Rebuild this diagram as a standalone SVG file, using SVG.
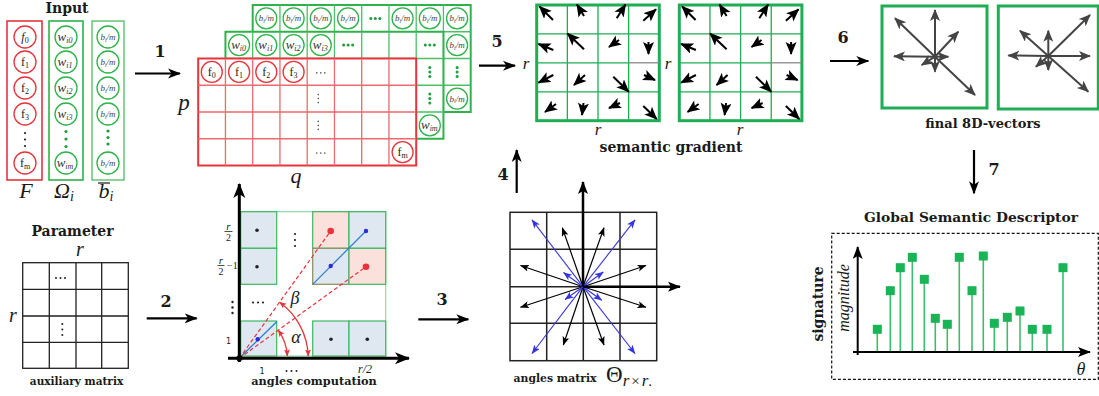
<svg xmlns="http://www.w3.org/2000/svg" width="1099" height="396" viewBox="0 0 1099 396">
<style>
.lbl{font-family:"DejaVu Serif","Liberation Serif",serif;font-weight:bold;fill:#1a1a1a}
.m{font-family:"Liberation Serif",serif;font-style:italic;fill:#1a1a1a}
.rm{font-family:"Liberation Serif",serif;fill:#1a1a1a}
.cr{fill:#fff;stroke:#e8343a;stroke-width:1.3}
.cg{fill:#fff;stroke:#2db34a;stroke-width:1.3}
.ft{font-family:"Liberation Serif",serif;font-size:12px;fill:#222;text-anchor:middle}
.wt{font-family:"Liberation Serif",serif;font-style:italic;font-size:13px;fill:#333;text-anchor:middle}
.bt{font-family:"Liberation Serif",serif;font-style:italic;font-size:9px;fill:#444;text-anchor:middle}
.gd{fill:#1e9e3c}
.kd{fill:#555}
.step{stroke:#000;stroke-width:2.2;fill:none;marker-end:url(#mStep)}
.ga{stroke:#000;stroke-width:2;fill:none;marker-end:url(#mG)}
.va{stroke:#444;stroke-width:2;fill:none;marker-end:url(#mV)}
.ta{stroke:#000;stroke-width:1.2;fill:none;marker-end:url(#mT)}
.ba{stroke:#3535e0;stroke-width:1.1;fill:none;marker-end:url(#mB)}
.rg{fill:#fff;stroke:#e8343a;stroke-width:2}
.rl{stroke:#ee6a6e;stroke-width:1.3;fill:none}
.gg{fill:#fff;stroke:#2db34a;stroke-width:2}
.gl{stroke:#4cc066;stroke-width:1.3;fill:none}
.sgo{fill:#fff;stroke:#1fae54;stroke-width:3}
.sgl{stroke:#1fae54;stroke-width:1.3;fill:none}
.cb{fill:#dfe7f0;stroke:#3cb862;stroke-width:1.2}
.cp{fill:#fbe1dc;stroke:#3cb862;stroke-width:1.2}
.stem{stroke:#3cbf6a;stroke-width:1.6}
.sq{fill:#19b455}
</style>
<defs>
<marker id="mStep" markerUnits="userSpaceOnUse" markerWidth="14" markerHeight="12" refX="12" refY="5.5" orient="auto"><path d="M0,0.5 L13,5.5 L0,10.5 L3.5,5.5 z" fill="#000"/></marker>
<marker id="mG" markerUnits="userSpaceOnUse" markerWidth="14" markerHeight="12" refX="12" refY="5.5" orient="auto"><path d="M0,0 L13,5.5 L0,11 L3,5.5 z" fill="#000"/></marker>
<marker id="mV" markerUnits="userSpaceOnUse" markerWidth="13" markerHeight="11" refX="11" refY="5" orient="auto"><path d="M0,0 L12,5 L0,10 L3,5 z" fill="#444"/></marker>
<marker id="mT" markerUnits="userSpaceOnUse" markerWidth="10" markerHeight="8" refX="8.5" refY="3.5" orient="auto"><path d="M0,0 L9,3.5 L0,7 L2.2,3.5 z" fill="#000"/></marker>
<marker id="mB" markerUnits="userSpaceOnUse" markerWidth="10" markerHeight="8" refX="8.5" refY="3.5" orient="auto"><path d="M0,0 L9,3.5 L0,7 L2.2,3.5 z" fill="#3535e0"/></marker>
<marker id="mK" markerUnits="userSpaceOnUse" markerWidth="14" markerHeight="11" refX="12" refY="5" orient="auto"><path d="M0,0 L13,5 L0,10 L3,5 z" fill="#000"/></marker>
<marker id="mAx" markerUnits="userSpaceOnUse" markerWidth="16" markerHeight="13" refX="14" refY="6" orient="auto"><path d="M0,0 L15,6 L0,12 L4,6 z" fill="#000"/></marker>
<marker id="mR" markerUnits="userSpaceOnUse" markerWidth="8" markerHeight="7" refX="6.5" refY="3" orient="auto-start-reverse"><path d="M0,0 L7,3 L0,6 L1.5,3 z" fill="#e8343a"/></marker>
</defs>
<rect width="1099" height="396" fill="#fff"/>

<!-- Input -->
<g id="input">
<text class="lbl" x="67" y="13" font-size="14" text-anchor="middle">Input</text>
<rect x="7" y="21" width="35" height="159" fill="none" stroke="#e8343a" stroke-width="1.6"/>
<rect x="49" y="21" width="34" height="159" fill="none" stroke="#2db34a" stroke-width="1.6"/>
<rect x="92" y="21" width="32" height="159" fill="none" stroke="#5cc070" stroke-width="1.4"/>
<circle class="cr" cx="25" cy="37" r="11"/><text class="ft" x="25" y="41"><tspan font-style="italic">f</tspan><tspan font-size="8" dy="2">0</tspan></text>
<circle class="cr" cx="25" cy="62" r="11"/><text class="ft" x="25" y="66">f<tspan font-size="8" dy="2">1</tspan></text>
<circle class="cr" cx="25" cy="88" r="11"/><text class="ft" x="25" y="92">f<tspan font-size="8" dy="2">2</tspan></text>
<circle class="cr" cx="25" cy="114" r="11"/><text class="ft" x="25" y="118">f<tspan font-size="8" dy="2">3</tspan></text>
<circle cx="25" cy="133" r="1.1" fill="#222"/><circle cx="25" cy="139.5" r="1.1" fill="#222"/><circle cx="25" cy="146" r="1.1" fill="#222"/>
<circle class="cr" cx="25" cy="163" r="11"/><text class="ft" x="25" y="167">f<tspan font-size="8" dy="2">m</tspan></text>

<circle class="cg" cx="66" cy="37" r="11"/><text class="wt" x="65" y="41">w<tspan font-size="8" dy="2">i0</tspan></text>
<circle class="cg" cx="66" cy="62" r="11"/><text class="wt" x="65" y="66">w<tspan font-size="8" dy="2">i1</tspan></text>
<circle class="cg" cx="66" cy="88" r="11"/><text class="wt" x="65" y="92">w<tspan font-size="8" dy="2">i2</tspan></text>
<circle class="cg" cx="66" cy="114" r="11"/><text class="wt" x="65" y="118">w<tspan font-size="8" dy="2">i3</tspan></text>
<circle cx="66" cy="131.5" r="1.6" class="gd"/><circle cx="66" cy="139" r="1.6" class="gd"/><circle cx="66" cy="146.5" r="1.6" class="gd"/>
<circle class="cg" cx="66" cy="163" r="11"/><text class="wt" x="65" y="167">w<tspan font-size="8" dy="2">im</tspan></text>

<circle class="cg" cx="108" cy="37" r="11"/><text class="bt" x="108" y="40">b<tspan font-size="6" dy="1.5">i</tspan><tspan dy="-1.5">/m</tspan></text>
<circle class="cg" cx="108" cy="62" r="11"/><text class="bt" x="108" y="65">b<tspan font-size="6" dy="1.5">i</tspan><tspan dy="-1.5">/m</tspan></text>
<circle class="cg" cx="108" cy="88" r="11"/><text class="bt" x="108" y="91">b<tspan font-size="6" dy="1.5">i</tspan><tspan dy="-1.5">/m</tspan></text>
<circle class="cg" cx="108" cy="114" r="11"/><text class="bt" x="108" y="117">b<tspan font-size="6" dy="1.5">i</tspan><tspan dy="-1.5">/m</tspan></text>
<circle cx="108" cy="131" r="1.6" class="gd"/><circle cx="108" cy="137.5" r="1.6" class="gd"/><circle cx="108" cy="144" r="1.6" class="gd"/>
<circle class="cg" cx="108" cy="163" r="11"/><text class="bt" x="108" y="166">b<tspan font-size="6" dy="1.5">i</tspan><tspan dy="-1.5">/m</tspan></text>

<text class="m" x="26" y="198" font-size="22" text-anchor="middle">F</text>
<text class="m" x="64" y="198" font-size="22" text-anchor="middle">Ω<tspan font-size="14" dy="3">i</tspan></text>
<text class="m" x="106" y="198" font-size="22" text-anchor="middle">b<tspan font-size="14" dy="3">i</tspan></text>
<line x1="98" y1="183" x2="110" y2="183" stroke="#1a1a1a" stroke-width="1.2"/>
</g>

<!-- Stacked grids -->
<g id="stacked-grids">
<rect class="gg" x="252.7" y="5" width="218" height="107"/>
<path class="gl" d="M279.95,5V112M307.2,5V112M334.45,5V112M361.7,5V112M388.95,5V112M416.2,5V112M443.45,5V112M252.7,31.75H470.7M252.7,58.5H470.7M252.7,85.25H470.7"/>
<g>
<circle class="cg" cx="266.3" cy="18.4" r="10.5"/><text class="bt" x="266.3" y="21.4">b<tspan font-size="6" dy="1.5">i</tspan><tspan dy="-1.5">/m</tspan></text>
<circle class="cg" cx="293.6" cy="18.4" r="10.5"/><text class="bt" x="293.6" y="21.4">b<tspan font-size="6" dy="1.5">i</tspan><tspan dy="-1.5">/m</tspan></text>
<circle class="cg" cx="320.8" cy="18.4" r="10.5"/><text class="bt" x="320.8" y="21.4">b<tspan font-size="6" dy="1.5">i</tspan><tspan dy="-1.5">/m</tspan></text>
<circle class="cg" cx="348.1" cy="18.4" r="10.5"/><text class="bt" x="348.1" y="21.4">b<tspan font-size="6" dy="1.5">i</tspan><tspan dy="-1.5">/m</tspan></text>
<circle class="gd" cx="370.8" cy="18.4" r="1.5"/><circle class="gd" cx="375.3" cy="18.4" r="1.5"/><circle class="gd" cx="379.8" cy="18.4" r="1.5"/>
<circle class="cg" cx="402.6" cy="18.4" r="10.5"/><text class="bt" x="402.6" y="21.4">b<tspan font-size="6" dy="1.5">i</tspan><tspan dy="-1.5">/m</tspan></text>
<circle class="cg" cx="429.8" cy="18.4" r="10.5"/><text class="bt" x="429.8" y="21.4">b<tspan font-size="6" dy="1.5">i</tspan><tspan dy="-1.5">/m</tspan></text>
<circle class="cg" cx="457.1" cy="18.4" r="10.5"/><text class="bt" x="457.1" y="21.4">b<tspan font-size="6" dy="1.5">i</tspan><tspan dy="-1.5">/m</tspan></text>
<circle class="cg" cx="457.1" cy="45.1" r="10.5"/><text class="bt" x="457.1" y="48.1">b<tspan font-size="6" dy="1.5">i</tspan><tspan dy="-1.5">/m</tspan></text>
<circle class="gd" cx="457.1" cy="67.4" r="1.5"/><circle class="gd" cx="457.1" cy="71.9" r="1.5"/><circle class="gd" cx="457.1" cy="76.4" r="1.5"/>
<circle class="cg" cx="457.1" cy="98.6" r="10.5"/><text class="bt" x="457.1" y="101.6">b<tspan font-size="6" dy="1.5">i</tspan><tspan dy="-1.5">/m</tspan></text>
</g>
<rect class="gg" x="225.45" y="31.75" width="218" height="107"/>
<path class="gl" d="M252.7,31.75V138.75M279.95,31.75V138.75M307.2,31.75V138.75M334.45,31.75V138.75M361.7,31.75V138.75M388.95,31.75V138.75M416.2,31.75V138.75M225.45,58.5H443.45M225.45,85.25H443.45M225.45,112H443.45"/>
<g>
<circle class="cg" cx="239.1" cy="45.1" r="10.5"/><text class="wt" x="238.6" y="49.1">w<tspan font-size="8" dy="2">i0</tspan></text>
<circle class="cg" cx="266.3" cy="45.1" r="10.5"/><text class="wt" x="265.8" y="49.1">w<tspan font-size="8" dy="2">i1</tspan></text>
<circle class="cg" cx="293.6" cy="45.1" r="10.5"/><text class="wt" x="293.1" y="49.1">w<tspan font-size="8" dy="2">i2</tspan></text>
<circle class="cg" cx="320.8" cy="45.1" r="10.5"/><text class="wt" x="320.3" y="49.1">w<tspan font-size="8" dy="2">i3</tspan></text>
<circle class="gd" cx="343.6" cy="45.1" r="1.5"/><circle class="gd" cx="348.1" cy="45.1" r="1.5"/><circle class="gd" cx="352.6" cy="45.1" r="1.5"/>
<circle class="gd" cx="425.3" cy="45.1" r="1.5"/><circle class="gd" cx="429.8" cy="45.1" r="1.5"/><circle class="gd" cx="434.3" cy="45.1" r="1.5"/>
<circle class="gd" cx="429.8" cy="67.4" r="1.5"/><circle class="gd" cx="429.8" cy="71.9" r="1.5"/><circle class="gd" cx="429.8" cy="76.4" r="1.5"/>
<circle class="gd" cx="429.8" cy="94.1" r="1.5"/><circle class="gd" cx="429.8" cy="98.6" r="1.5"/><circle class="gd" cx="429.8" cy="103.1" r="1.5"/>
<circle class="cg" cx="429.8" cy="125.4" r="10.5"/><text class="wt" x="429.3" y="129.4">w<tspan font-size="8" dy="2">im</tspan></text>
</g>
<rect class="rg" x="198.2" y="58.5" width="218" height="107"/>
<path class="rl" d="M225.45,58.5V165.5M252.7,58.5V165.5M279.95,58.5V165.5M307.2,58.5V165.5M334.45,58.5V165.5M361.7,58.5V165.5M388.95,58.5V165.5M198.2,85.25H416.2M198.2,112H416.2M198.2,138.75H416.2"/>
<g>
<circle class="cr" cx="211.8" cy="71.9" r="10.5"/><text class="ft" x="211.8" y="75.9">f<tspan font-size="8" dy="2">0</tspan></text>
<circle class="cr" cx="239.1" cy="71.9" r="10.5"/><text class="ft" x="239.1" y="75.9">f<tspan font-size="8" dy="2">1</tspan></text>
<circle class="cr" cx="266.3" cy="71.9" r="10.5"/><text class="ft" x="266.3" y="75.9">f<tspan font-size="8" dy="2">2</tspan></text>
<circle class="cr" cx="293.6" cy="71.9" r="10.5"/><text class="ft" x="293.6" y="75.9">f<tspan font-size="8" dy="2">3</tspan></text>
<circle class="kd" cx="316.8" cy="72.9" r="0.8"/><circle class="kd" cx="320.8" cy="72.9" r="0.8"/><circle class="kd" cx="324.8" cy="72.9" r="0.8"/>
<circle class="kd" cx="318.3" cy="94.6" r="0.8"/><circle class="kd" cx="318.3" cy="98.6" r="0.8"/><circle class="kd" cx="318.3" cy="102.6" r="0.8"/>
<circle class="kd" cx="318.3" cy="121.4" r="0.8"/><circle class="kd" cx="318.3" cy="125.4" r="0.8"/><circle class="kd" cx="318.3" cy="129.4" r="0.8"/>
<circle class="kd" cx="316.8" cy="153.1" r="0.8"/><circle class="kd" cx="320.8" cy="153.1" r="0.8"/><circle class="kd" cx="324.8" cy="153.1" r="0.8"/>
<circle class="cr" cx="402.6" cy="152.1" r="10.5"/><text class="ft" x="402.6" y="156.1">f<tspan font-size="8" dy="2">m</tspan></text>
</g>
<text class="m" x="184" y="110" font-size="23" text-anchor="middle">p</text>
<text class="m" x="296" y="183" font-size="22" text-anchor="middle">q</text>
</g>

<!-- Semantic gradient -->
<g id="semantic-gradient">
<g id="sg1">
<rect class="sgo" x="536.7" y="5" width="122.6" height="115.7"/>
<path class="sgl" d="M567.35,5V120.7M598,5V120.7M628.65,5V120.7M536.7,33.9H659.3M536.7,91.8H659.3M536.7,62.8H628.65"/>
<path d="M628.65,62.8H659.3" stroke="#888" stroke-width="1.3"/>
<path class="ga" d="M553,20L539.5,6.5"/>
<path class="ga" d="M584,16L577,4.5"/>
<path class="ga" d="M616.7,18.3L625.5,4.5"/>
<path class="ga" d="M643.3,20.7L656,9.3"/>
<path class="ga" d="M553.3,50L538.5,44"/>
<path class="ga" d="M584,49.3L567.5,33.5"/>
<path class="ga" d="M619,40L609,47"/>
<path class="ga" d="M648.5,42L648.5,54"/>
<path class="ga" d="M553.3,75L538.5,82.7"/>
<path class="ga" d="M585,75L574,85"/>
<path class="ga" d="M613.3,76.7L628.7,91.7"/>
<path class="ga" d="M644,75L655,80"/>
<path class="ga" d="M556,104L545,112"/>
<path class="ga" d="M583.5,103L582,115"/>
<path class="ga" d="M620,103L609,108"/>
<path class="ga" d="M643.3,106L656.7,119"/>
</g>
<use href="#sg1" transform="translate(142.6,0)"/>
<text class="m" x="526" y="69" font-size="17" text-anchor="middle">r</text>
<text class="m" x="668" y="69" font-size="17" text-anchor="middle">r</text>
<text class="m" x="598" y="135" font-size="17" text-anchor="middle">r</text>
<text class="m" x="740" y="135" font-size="17" text-anchor="middle">r</text>
<text class="lbl" x="671" y="152" font-size="14" text-anchor="middle">semantic gradient</text>
</g>

<!-- final 8D vectors -->
<g id="final-8d-vectors">
<rect x="882" y="6" width="105" height="102" fill="#fff" stroke="#1fae54" stroke-width="3"/>
<path class="va" d="M935,56.7L935,10"/>
<path class="va" d="M935,56.7L895,18.3"/>
<path class="va" d="M935,56.7L958.3,31.7"/>
<path class="va" d="M935,56.7L894,56.3"/>
<path class="va" d="M935,56.7L948.3,56.7"/>
<path class="va" d="M935,56.7L975,95"/>
<path class="va" d="M935,56.7L935,71.7"/>
<path class="va" d="M935,56.7L921.7,65"/>
<rect x="998.3" y="6" width="100" height="103" fill="#fff" stroke="#1fae54" stroke-width="3"/>
<path class="va" d="M1048.3,56L1048.3,30.7"/>
<path class="va" d="M1048.3,56L1020,30.7"/>
<path class="va" d="M1048.3,56L1090,15"/>
<path class="va" d="M1048.3,56L1008.3,55.5"/>
<path class="va" d="M1048.3,56L1090,56"/>
<path class="va" d="M1048.3,56L1088.3,91.7"/>
<path class="va" d="M1048.3,56L1048.3,70"/>
<path class="va" d="M1048.3,56L1036,66.7"/>
<text class="lbl" x="983" y="128" font-size="13" text-anchor="middle">final 8D-vectors</text>
</g>

<!-- Parameter / auxiliary matrix -->
<g id="auxiliary-matrix">
<text class="lbl" x="72.5" y="236" font-size="14" text-anchor="middle">Parameter</text>
<text class="m" x="80" y="256" font-size="20" text-anchor="middle">r</text>
<text class="m" x="13" y="322" font-size="20" text-anchor="middle">r</text>
<rect x="22.7" y="262.7" width="105.6" height="105.6" fill="none" stroke="#222" stroke-width="1.3"/>
<path d="M49.3,262.7V368.3M76,262.7V368.3M101.7,262.7V368.3M22.7,289.3H128.3M22.7,316H128.3M22.7,342.3H128.3" stroke="#222" stroke-width="1.3" fill="none"/>
<circle cx="56" cy="278" r="1" fill="#222"/><circle cx="60.5" cy="278" r="1" fill="#222"/><circle cx="65" cy="278" r="1" fill="#222"/>
<circle cx="62.3" cy="324" r="1" fill="#222"/><circle cx="62.3" cy="329.5" r="1" fill="#222"/><circle cx="62.3" cy="335" r="1" fill="#222"/>
<text class="lbl" x="76.5" y="385" font-size="10.5" text-anchor="middle">auxiliary matrix</text>
</g>

<!-- Angles computation -->
<g id="angles-computation">
<rect x="240" y="211.7" width="145.7" height="144.3" fill="none" stroke="#8fd8a4" stroke-width="1.2"/>
<rect class="cb" x="240.7" y="211.7" width="36" height="36.6"/>
<rect class="cb" x="240.7" y="248.3" width="36" height="36"/>
<rect class="cb" x="240.7" y="321" width="36" height="35"/>
<rect class="cp" x="312.7" y="211.7" width="36.3" height="36.6"/>
<rect class="cb" x="349" y="211.7" width="36.7" height="36.6"/>
<rect class="cb" x="312.7" y="248.3" width="36.3" height="36" style="stroke:#8b8b5a"/>
<rect class="cp" x="349" y="248.3" width="36.7" height="36"/>
<rect class="cb" x="312.7" y="321" width="36.3" height="35"/>
<rect class="cb" x="349" y="321" width="36.7" height="35"/>
<circle cx="257" cy="230.3" r="1.8" fill="#222"/>
<circle cx="257" cy="266.7" r="1.8" fill="#222"/>
<circle cx="331" cy="339.3" r="1.8" fill="#222"/>
<circle cx="367.3" cy="339.3" r="1.8" fill="#222"/>
<path d="M240.5,357L276.7,321.7M312.7,284.3L366,231" stroke="#2b7bd0" stroke-width="1.2"/>
<circle cx="257.7" cy="339.3" r="2.2" fill="#2a2ae0"/>
<circle cx="330.7" cy="266" r="2.2" fill="#2a2ae0"/>
<circle cx="366" cy="231" r="2.2" fill="#2a2ae0"/>
<path d="M239.3,358.3L330.7,231M239.3,358.3L366,266.7" stroke="#e8343a" stroke-width="1.2" stroke-dasharray="4,2.5" fill="none"/>
<circle cx="330.7" cy="231" r="3.3" fill="#e8343a"/>
<circle cx="366" cy="266.7" r="3.3" fill="#e8343a"/>
<path d="M278.2,330.2A48,48 0 0 1 287.3,356" stroke="#e8343a" stroke-width="1.3" fill="none" marker-start="url(#mR)" marker-end="url(#mR)"/>
<path d="M279.6,302.3A69,69 0 0 1 308.2,356" stroke="#e8343a" stroke-width="1.3" fill="none" marker-start="url(#mR)" marker-end="url(#mR)"/>
<text class="m" x="295" y="304" font-size="18" fill="#333" text-anchor="middle">β</text>
<text class="m" x="296" y="343" font-size="18" fill="#333" text-anchor="middle">α</text>
<circle cx="232.5" cy="302" r="1.2" fill="#222"/><circle cx="232.5" cy="307.5" r="1.2" fill="#222"/><circle cx="232.5" cy="313" r="1.2" fill="#222"/>
<circle cx="253" cy="302.5" r="1.1" fill="#222"/><circle cx="258" cy="302.5" r="1.1" fill="#222"/><circle cx="263" cy="302.5" r="1.1" fill="#222"/>
<circle cx="295" cy="234" r="1.1" fill="#222"/><circle cx="295" cy="240" r="1.1" fill="#222"/><circle cx="295" cy="246" r="1.1" fill="#222"/>
<text class="m" x="228.5" y="229.5" font-size="11" text-anchor="middle">r</text>
<line x1="224.5" y1="231.5" x2="232.5" y2="231.5" stroke="#222" stroke-width="0.8"/>
<text class="rm" x="228.5" y="240.5" font-size="10" text-anchor="middle">2</text>
<text class="m" x="221" y="263.5" font-size="11" text-anchor="middle">r</text>
<line x1="217.5" y1="265.5" x2="224.5" y2="265.5" stroke="#222" stroke-width="0.8"/>
<text class="rm" x="221" y="274.5" font-size="10" text-anchor="middle">2</text>
<text class="rm" x="227" y="269" font-size="10">−1</text>
<text font-family="DejaVu Sans,sans-serif" x="228.5" y="344" font-size="8" fill="#222" text-anchor="middle">1</text>
<text font-family="DejaVu Sans,sans-serif" x="262" y="374" font-size="8" fill="#222" text-anchor="middle">1</text>
<circle cx="286.5" cy="371" r="1" fill="#222"/><circle cx="291.5" cy="371" r="1" fill="#222"/><circle cx="296.5" cy="371" r="1" fill="#222"/>
<text class="m" x="365" y="373" font-size="12" text-anchor="middle">r/2</text>
<path d="M239.3,362V184" stroke="#000" stroke-width="3" marker-end="url(#mAx)"/>
<path d="M228,358.3H409" stroke="#000" stroke-width="3" marker-end="url(#mAx)"/>
<circle cx="239.3" cy="358.3" r="3" fill="#000"/>
<text class="lbl" x="314" y="385" font-size="11.3" text-anchor="middle">angles computation</text>
</g>

<!-- Angles matrix -->
<g id="angles-matrix">
<rect x="510" y="212.3" width="146.7" height="148.4" fill="none" stroke="#222" stroke-width="1.5"/>
<path d="M546.7,212.3V360.7M583.3,212.3V360.7M620,212.3V360.7M510,249.3H656.7M510,286.7H656.7M510,323.3H656.7" stroke="#222" stroke-width="1.5" fill="none"/>
<path class="ta" d="M583,286.7L562.3,227.8"/>
<path class="ta" d="M583,286.7L604,227.8"/>
<path class="ta" d="M583,286.7L520.5,265.5"/>
<path class="ta" d="M583,286.7L646,265.5"/>
<path class="ta" d="M583,286.7L520.5,307.3"/>
<path class="ta" d="M583,286.7L646,307.3"/>
<path class="ta" d="M583,286.7L563.3,345"/>
<path class="ta" d="M583,286.7L604,345"/>
<path class="ba" d="M583,286.7L532,219.8"/>
<path class="ba" d="M583,286.7L635,219.8"/>
<path class="ba" d="M583,286.7L532,353.5"/>
<path class="ba" d="M583,286.7L635,353.5"/>
<path class="ba" d="M583,286.7L563.5,272.5"/>
<path class="ba" d="M583,286.7L603.3,272"/>
<path class="ba" d="M583,286.7L565,299.5"/>
<path class="ba" d="M583,286.7L601.7,300.3"/>
<path d="M583,286.7V182" stroke="#000" stroke-width="2.5" marker-end="url(#mK)"/>
<path d="M583,286.7H680" stroke="#000" stroke-width="2.5" marker-end="url(#mK)"/>
<text class="lbl" x="555" y="382" font-size="10.8" text-anchor="middle">angles matrix</text>
<text class="rm" x="606" y="382" font-size="23">Θ<tspan class="m" font-size="17" dy="4">r</tspan><tspan font-size="15" dx="2">×</tspan><tspan class="m" font-size="17" dx="2">r</tspan><tspan font-size="15">.</tspan></text>
</g>

<!-- Global semantic descriptor -->
<g id="global-descriptor">
<text class="lbl" x="971" y="222" font-size="13.8" text-anchor="middle">Global Semantic Descriptor</text>
<rect x="831.7" y="233.3" width="266.6" height="146" fill="none" stroke="#111" stroke-width="1.2" stroke-dasharray="3,2"/>
<text class="lbl" transform="translate(823,304) rotate(-90)" font-size="14" text-anchor="middle">signature</text>
<text class="m" transform="translate(849,298) rotate(-90)" font-size="16" text-anchor="middle" fill="#222">magnitude</text>
<g>
<line class="stem" x1="877.3" y1="352" x2="877.3" y2="329.3"/><rect class="sq" x="872.8" y="324.8" width="9" height="9"/>
<line class="stem" x1="890.3" y1="352" x2="890.3" y2="290.7"/><rect class="sq" x="885.8" y="286.2" width="9" height="9"/>
<line class="stem" x1="900.3" y1="352" x2="900.3" y2="267.7"/><rect class="sq" x="895.8" y="263.2" width="9" height="9"/>
<line class="stem" x1="912.3" y1="352" x2="912.3" y2="257.3"/><rect class="sq" x="907.8" y="252.8" width="9" height="9"/>
<line class="stem" x1="924.3" y1="352" x2="924.3" y2="279.3"/><rect class="sq" x="919.8" y="274.8" width="9" height="9"/>
<line class="stem" x1="935.3" y1="352" x2="935.3" y2="318.3"/><rect class="sq" x="930.8" y="313.8" width="9" height="9"/>
<line class="stem" x1="947.3" y1="352" x2="947.3" y2="324.3"/><rect class="sq" x="942.8" y="319.8" width="9" height="9"/>
<line class="stem" x1="959.3" y1="352" x2="959.3" y2="257.3"/><rect class="sq" x="954.8" y="252.8" width="9" height="9"/>
<line class="stem" x1="972" y1="352" x2="972" y2="290.7"/><rect class="sq" x="967.5" y="286.2" width="9" height="9"/>
<line class="stem" x1="983.3" y1="352" x2="983.3" y2="256"/><rect class="sq" x="978.8" y="251.5" width="9" height="9"/>
<line class="stem" x1="994.3" y1="352" x2="994.3" y2="323.3"/><rect class="sq" x="989.8" y="318.8" width="9" height="9"/>
<line class="stem" x1="1007.3" y1="352" x2="1007.3" y2="317.3"/><rect class="sq" x="1002.8" y="312.8" width="9" height="9"/>
<line class="stem" x1="1020" y1="352" x2="1020" y2="311"/><rect class="sq" x="1015.5" y="306.5" width="9" height="9"/>
<line class="stem" x1="1032.3" y1="352" x2="1032.3" y2="329.3"/><rect class="sq" x="1027.8" y="324.8" width="9" height="9"/>
<line class="stem" x1="1047" y1="352" x2="1047" y2="329.3"/><rect class="sq" x="1042.5" y="324.8" width="9" height="9"/>
<line class="stem" x1="1063" y1="352" x2="1063" y2="267.7"/><rect class="sq" x="1058.5" y="263.2" width="9" height="9"/>
</g>
<path d="M857.7,355V247" stroke="#000" stroke-width="2" marker-end="url(#mK)"/>
<path d="M853,352H1090" stroke="#000" stroke-width="2" marker-end="url(#mK)"/>
<text class="m" x="1081" y="375" font-size="18" text-anchor="middle">θ</text>
</g>

<!-- Connectors -->
<g id="connectors">
<path class="step" d="M135,73.5H180"/>
<text class="lbl" x="160" y="57" font-size="16" text-anchor="middle">1</text>
<path class="step" d="M146.7,318.3H196.7"/>
<text class="lbl" x="166" y="307" font-size="16" text-anchor="middle">2</text>
<path class="step" d="M418.3,319.3H468.3"/>
<text class="lbl" x="442" y="305" font-size="16" text-anchor="middle">3</text>
<path class="step" d="M516.7,193V150"/>
<text class="lbl" x="503" y="180" font-size="16" text-anchor="middle">4</text>
<path class="step" d="M479,65.7H515"/>
<text class="lbl" x="497" y="47" font-size="16" text-anchor="middle">5</text>
<path class="step" d="M830,61H868.3"/>
<text class="lbl" x="843" y="43" font-size="16" text-anchor="middle">6</text>
<path class="step" d="M974,150V193.3"/>
<text class="lbl" x="994" y="175" font-size="16" text-anchor="middle">7</text>
</g>
</svg>
